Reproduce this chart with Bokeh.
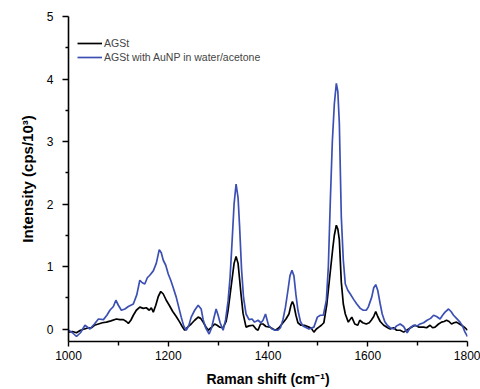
from bokeh.plotting import figure
from bokeh.models import Range1d, FixedTicker, Legend, LegendItem
from bokeh.embed import file_html
from bokeh.resources import INLINE

# ---- data ----
agst_x = [1000, 1008, 1016, 1024, 1032, 1040, 1046, 1052, 1060, 1068, 1076, 1085, 1096, 1103,
          1110, 1116, 1120, 1125, 1130, 1136, 1143, 1150, 1156, 1162, 1166, 1170, 1175, 1180,
          1185, 1190, 1196, 1202, 1209, 1216, 1223, 1228, 1233, 1240, 1246, 1253, 1260, 1265,
          1270, 1275, 1280, 1286, 1293, 1298, 1303, 1310, 1316, 1320, 1324, 1328, 1332, 1336,
          1340, 1343, 1346, 1350, 1356, 1362, 1370, 1376, 1380, 1385, 1390, 1396, 1404, 1410,
          1415, 1422, 1430, 1436, 1442, 1446, 1449, 1452, 1456, 1460, 1466, 1473, 1482, 1487,
          1492, 1497, 1502, 1507, 1512, 1518, 1522, 1526, 1530, 1533, 1537, 1540, 1543, 1547,
          1551, 1555, 1561, 1568, 1574, 1580, 1584, 1590, 1597, 1603, 1607, 1612, 1616, 1620,
          1625, 1632, 1640, 1645, 1652, 1658, 1665, 1672, 1678, 1682, 1690, 1695, 1702, 1712,
          1718, 1725, 1730, 1735, 1742, 1748, 1753, 1758, 1763, 1768, 1773, 1778, 1784, 1788,
          1795, 1800]
agst_y = [-0.05, -0.04, -0.06, -0.02, 0.00, 0.02, 0.02, 0.06, 0.08, 0.10, 0.11, 0.13, 0.16, 0.15,
          0.15, 0.12, 0.09, 0.14, 0.22, 0.30, 0.35, 0.33, 0.34, 0.30, 0.34, 0.27, 0.38, 0.52,
          0.60, 0.56, 0.46, 0.38, 0.28, 0.20, 0.11, 0.04, -0.02, 0.04, 0.08, 0.14, 0.19, 0.17,
          0.11, 0.04, -0.02, 0.02, 0.08, 0.06, 0.03, 0.02, 0.12, 0.30, 0.55, 0.80, 1.05, 1.16,
          1.05, 0.80, 0.55, 0.25, 0.03, 0.05, 0.06, 0.00, -0.02, 0.08, 0.08, 0.04, 0.03, 0.00,
          -0.02, 0.02, 0.10, 0.16, 0.24, 0.38, 0.44, 0.38, 0.22, 0.10, 0.06, 0.06, 0.03, 0.01,
          -0.05, 0.00, 0.03, 0.06, 0.10, 0.40, 0.70, 1.00, 1.30, 1.50, 1.66, 1.60, 1.43, 0.75,
          0.40, 0.24, 0.11, 0.19, 0.08, 0.06, 0.14, 0.10, 0.08, 0.10, 0.14, 0.20, 0.28, 0.20,
          0.12, 0.06, 0.02, 0.00, 0.02, -0.02, -0.02, -0.05, -0.02, 0.00, 0.04, 0.06, 0.03, 0.03,
          0.02, 0.06, 0.02, 0.03, 0.08, 0.11, 0.12, 0.14, 0.12, 0.08, 0.10, 0.11, 0.08, 0.06,
          0.02, -0.02]

aunp_x = [1000, 1008, 1016, 1024, 1033, 1043, 1052, 1060, 1070, 1077, 1083, 1090, 1095, 1100,
          1106, 1113, 1120, 1130, 1137, 1143, 1148, 1153, 1158, 1163, 1170, 1176, 1182, 1186,
          1190, 1195, 1200, 1205, 1210, 1216, 1221, 1226, 1231, 1236, 1241, 1246, 1253, 1260,
          1266, 1270, 1275, 1282, 1287, 1291, 1296, 1300, 1304, 1310, 1315, 1320, 1324, 1328,
          1332, 1336, 1340, 1343, 1347, 1351, 1356, 1362, 1368, 1373, 1380, 1386, 1390, 1395,
          1401, 1408, 1415, 1420, 1425, 1430, 1435, 1440, 1444, 1448, 1452, 1456, 1460, 1465,
          1470, 1482, 1492, 1499, 1505, 1511, 1517, 1521, 1525, 1529, 1533, 1537, 1540, 1543,
          1547, 1551, 1555, 1560, 1565, 1572, 1578, 1585, 1591, 1597, 1601, 1608, 1612, 1616,
          1620, 1625, 1629, 1634, 1639, 1645, 1652, 1658, 1665, 1672, 1679, 1685, 1692, 1699,
          1705, 1712, 1719, 1726, 1732, 1738, 1745, 1750, 1755, 1762, 1767, 1772, 1778, 1785,
          1790, 1795, 1800]
aunp_y = [-0.02, -0.06, -0.12, -0.06, 0.06, 0.00, 0.08, 0.16, 0.15, 0.22, 0.30, 0.36, 0.46, 0.38,
          0.30, 0.32, 0.36, 0.40, 0.55, 0.78, 0.74, 0.72, 0.82, 0.86, 0.93, 1.05, 1.27, 1.22,
          1.10, 1.02, 0.88, 0.78, 0.66, 0.51, 0.35, 0.19, 0.05, -0.02, 0.05, 0.19, 0.30, 0.38,
          0.32, 0.15, 0.02, -0.08, 0.02, 0.16, 0.32, 0.22, 0.10, -0.02, 0.15, 0.45, 0.83, 1.40,
          2.00, 2.32, 2.10, 1.65, 0.95, 0.50, 0.24, 0.15, 0.16, 0.11, 0.14, 0.10, 0.14, 0.24,
          0.06, 0.00, -0.02, -0.02, 0.02, 0.15, 0.35, 0.62, 0.85, 0.94, 0.85, 0.55, 0.30, 0.12,
          0.05, 0.00, 0.03, 0.19, 0.22, 0.22, 0.46, 1.00, 2.06, 3.00, 3.60, 3.93, 3.80, 3.30,
          1.79, 1.10, 0.72, 0.62, 0.56, 0.47, 0.40, 0.33, 0.30, 0.30, 0.35, 0.51, 0.66, 0.71,
          0.62, 0.40, 0.24, 0.12, 0.06, 0.02, 0.00, 0.05, 0.08, 0.04, -0.06, 0.02, 0.06, 0.05,
          0.08, 0.10, 0.14, 0.17, 0.22, 0.20, 0.16, 0.22, 0.27, 0.32, 0.28, 0.22, 0.17, 0.11,
          0.05, -0.05, -0.12]

series_labels = ["AGSt", "AGSt with AuNP in water/acetone"]
x_ticks = [1000, 1200, 1400, 1600, 1800]
x_minor = [1100, 1300, 1500, 1700]
y_ticks = [0, 1, 2, 3, 4, 5]
y_minor = [0.5, 1.5, 2.5, 3.5, 4.5]

FONT = "Liberation Sans"

p = figure(width=480, height=389, output_backend="svg", toolbar_location=None,
           x_range=Range1d(1000, 1800), y_range=Range1d(-0.2, 5.0),
           min_border_left=68, min_border_right=13, min_border_top=16, min_border_bottom=48)
p.outline_line_color = None
p.xgrid.visible = False
p.ygrid.visible = False
p.background_fill_color = "white"

r1 = p.line(agst_x, agst_y, line_color="black", line_width=1.7)
r2 = p.line(aunp_x, aunp_y, line_color="#3c50b4", line_width=1.7)

xa = p.xaxis[0]
xa.ticker = FixedTicker(ticks=x_ticks, minor_ticks=x_minor)
xa.axis_label = "Raman shift (cm\u207b\u00b9)"
ya = p.yaxis[0]
ya.ticker = FixedTicker(ticks=y_ticks, minor_ticks=y_minor)
ya.axis_label = "Intensity (cps/10\u00b3)"

for ax in (xa, ya):
    ax.axis_line_width = 1.6
    ax.axis_line_color = "black"
    ax.major_tick_line_width = 1.4
    ax.minor_tick_line_width = 1.4
    ax.major_tick_in = 0
    ax.minor_tick_in = 0
    ax.major_label_text_font = FONT
    ax.major_label_text_font_size = "12px"
    ax.major_label_text_color = "black"
    ax.axis_label_text_font = FONT
    ax.axis_label_text_font_style = "bold"
    ax.axis_label_text_color = "black"

xa.major_tick_out = 5
xa.minor_tick_out = 4
xa.major_label_standoff = 4
xa.axis_label_standoff = 8
xa.axis_label_text_font_size = "14px"

ya.major_tick_out = 6
ya.minor_tick_out = 3
ya.major_label_standoff = 9
ya.axis_label_standoff = 8
ya.axis_label_text_font_size = "15px"

legend = Legend(items=[LegendItem(label=series_labels[0], renderers=[r1]),
                       LegendItem(label=series_labels[1], renderers=[r2])],
                location=(9, 277), glyph_width=25, glyph_height=14, label_height=14,
                spacing=0, padding=0, margin=0, label_standoff=2,
                border_line_color=None, background_fill_alpha=0,
                label_text_font=FONT, label_text_font_size="10.5px")
p.add_layout(legend)

open("out.html", "w").write(file_html(p, INLINE))
